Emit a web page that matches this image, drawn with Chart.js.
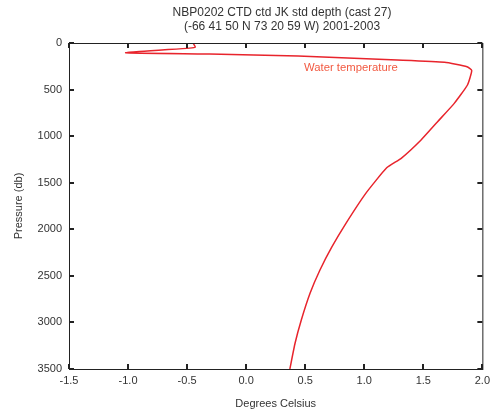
<!DOCTYPE html>
<html>
<head>
<meta charset="utf-8">
<script src="https://cdn.jsdelivr.net/npm/chart.js@4"></script>
<style>
  html, body { margin: 0; padding: 0; background: #fff; }
  #wrap { width: 495px; height: 411px; }
</style>
</head>
<body>
<div id="wrap"><canvas id="profile" width="495" height="411"></canvas></div>
<script>
const titleLines = ['NBP0202 CTD ctd JK std depth (cast 27)', '(-66 41 50 N 73 20 59 W) 2001-2003'];
const seriesName = 'Water temperature';

// temperature (deg C) vs pressure (db)
const temperature = [-0.45, -0.43, -0.48, -1.02, -0.31, 0.44, 1.28, 1.68, 1.87, 1.91, 1.874, 1.762, 1.621, 1.481, 1.313, 1.19, 1.013, 0.845, 0.727, 0.625, 0.541, 0.467, 0.414, 0.37];
const pressure    = [0, 45, 55, 105, 118, 140, 183, 207, 254, 295, 451, 648, 845, 1041, 1238, 1340, 1614, 1936, 2187, 2437, 2687, 2974, 3224, 3500];

const xTicks = [-1.5, -1.0, -0.5, 0, 0.5, 1.0, 1.5, 2.0];
const yTicks = [0, 500, 1000, 1500, 2000, 2500, 3000, 3500];

const points = temperature.map((t, i) => ({ x: t, y: pressure[i] }));
const font = 'Liberation Sans, Arial, Helvetica, sans-serif';

// box, inward ticks on all four sides, title and series label
const frame = {
  id: 'frame',
  afterDraw(chart) {
    const { ctx, chartArea: a, scales: { x, y } } = chart;
    ctx.save();
    ctx.strokeStyle = '#222';
    ctx.lineWidth = 1;
    ctx.strokeRect(a.left + 0.5, a.top + 0.5, a.right - a.left, a.bottom - a.top);
    ctx.lineWidth = 2;
    const len = 5;
    ctx.beginPath();
    xTicks.forEach(v => {
      const px = Math.round(x.getPixelForValue(v));
      ctx.moveTo(px, a.bottom); ctx.lineTo(px, a.bottom - len);
      ctx.moveTo(px, a.top); ctx.lineTo(px, a.top + len);
    });
    yTicks.forEach(v => {
      const py = Math.round(y.getPixelForValue(v));
      ctx.moveTo(a.left, py); ctx.lineTo(a.left + len, py);
      ctx.moveTo(a.right, py); ctx.lineTo(a.right - len, py);
    });
    ctx.stroke();

    ctx.fillStyle = '#333';
    ctx.font = '12px ' + font;
    ctx.textAlign = 'center';
    ctx.textBaseline = 'middle';
    ctx.fillText(titleLines[0], 282, 13);
    ctx.fillText(titleLines[1], 282, 27);

    ctx.fillStyle = '#f25a42';
    ctx.font = '11.3px ' + font;
    ctx.textAlign = 'left';
    ctx.fillText(seriesName, 304, 68);
    ctx.restore();
  }
};

new Chart(document.getElementById('profile'), {
  type: 'scatter',
  data: {
    datasets: [{
      label: seriesName,
      data: points,
      showLine: true,
      borderColor: '#e8242c',
      borderWidth: 1.5,
      pointRadius: 0,
      tension: 0.15,
      fill: false
    }]
  },
  options: {
    responsive: false,
    animation: false,
    layout: { padding: { top: 43, right: 10, left: 12, bottom: 0 } },
    plugins: { legend: { display: false }, title: { display: false }, tooltip: { enabled: false } },
    scales: {
      x: {
        type: 'linear',
        min: -1.5,
        max: 2.0,
        afterBuildTicks: s => { s.ticks = xTicks.map(v => ({ value: v })); },
        afterFit: s => { s.height = 42; },
        grid: { display: false, drawTicks: false },
        border: { display: false },
        ticks: {
          color: '#333',
          font: { family: font, size: 11 },
          padding: 5,
          callback: v => v.toFixed(1)
        },
        title: { display: true, text: 'Degrees Celsius', color: '#333', font: { family: font, size: 11 }, padding: { top: 1, bottom: 0 } }
      },
      y: {
        type: 'linear',
        reverse: true,
        min: 0,
        max: 3500,
        afterBuildTicks: s => { s.ticks = yTicks.map(v => ({ value: v })); },
        afterFit: s => { s.width = 57; },
        grid: { display: false, drawTicks: false },
        border: { display: false },
        ticks: {
          color: '#333',
          font: { family: font, size: 11 },
          padding: 7,
          callback: v => String(v)
        },
        title: { display: true, text: 'Pressure (db)', color: '#333', font: { family: font, size: 11 }, padding: { top: 0, bottom: 4 } }
      }
    }
  },
  plugins: [frame]
});
</script>
</body>
</html>
